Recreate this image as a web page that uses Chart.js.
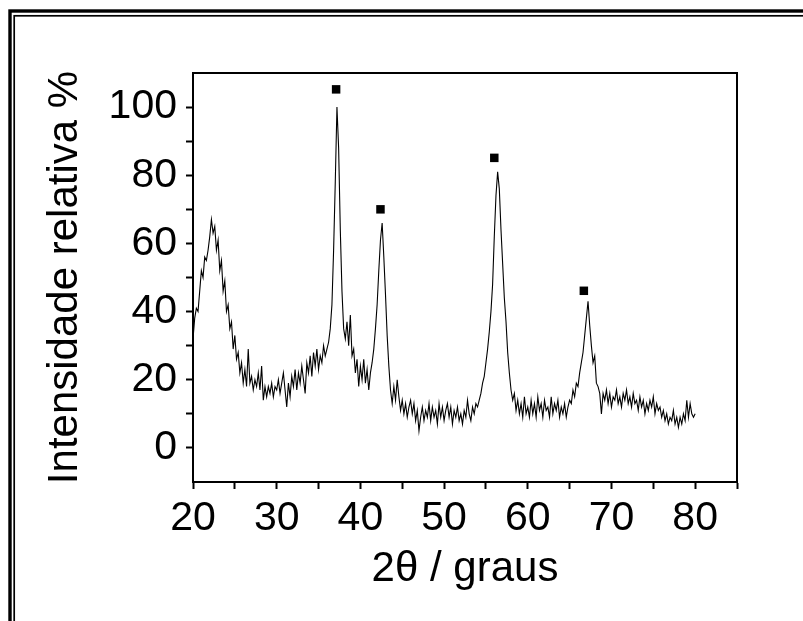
<!DOCTYPE html>
<html lang="pt-br">
<head>
    <meta charset="UTF-8">
    <title>DRX</title>
    <script src="https://cdn.jsdelivr.net/npm/chart.js"></script>
    <style>
        body { margin: 0; background: #fff; }
        #grafico { display: block; }
    </style>
</head>
<body>
    <canvas id="grafico" width="803" height="621"></canvas>

<script>
    // angulos 2theta: comeca em 20 e anda de 0,2 em 0,2 ate 80
    const inicio = 20;
    const passo = 0.2;

    const intensidade = [
        32, 38, 41, 40, 46, 52, 50, 56, 55, 58,
        62, 67, 63, 65, 58, 61, 52, 55, 46, 49,
        40, 42, 35, 37, 29, 33, 26, 28, 22, 25,
        19, 23, 18, 29, 19, 21, 17, 20, 18, 22,
        17, 24, 14, 18, 15, 18, 16, 19, 15, 18,
        17, 20, 16, 19, 22, 17, 12, 19, 15, 21,
        18, 23, 17, 22, 19, 24, 20, 16, 25, 22,
        27, 21, 28, 24, 29, 23, 27, 25, 30, 27,
        29, 31, 35, 42, 58, 78, 100, 88, 64, 46,
        35, 32, 37, 30, 39, 27, 29, 22, 26, 18,
        24, 20, 26, 19, 23, 17, 22, 25, 29, 35,
        42, 52, 61, 66, 56, 45, 33, 24, 17, 13,
        18, 14, 20, 15, 11, 14, 10, 13, 9, 12,
        14, 10, 13, 8, 11, 5, 9, 12, 8, 11,
        9, 13, 8, 12, 9, 11, 7, 13, 9, 12,
        8, 11, 13, 9, 12, 7, 11, 9, 12, 8,
        10, 7, 11, 9, 14, 10, 8, 12, 10, 13,
        12, 14, 16, 19, 21, 25, 29, 34, 40, 48,
        62, 74, 81, 76, 64, 54, 44, 37, 28, 22,
        17, 14, 16, 11, 14, 10, 13, 9, 15, 10,
        12, 9, 14, 10, 13, 9, 15, 11, 13, 9,
        14, 11, 12, 9, 15, 10, 13, 11, 14, 9,
        12, 10, 13, 9, 12, 14, 13, 17, 15, 19,
        18, 22, 25, 28, 33, 38, 43, 36, 30, 25,
        27, 19, 18, 16, 10, 16, 14, 17, 13, 16,
        12, 15, 14, 17, 13, 15, 12, 16, 14, 17,
        13, 15, 12, 16, 13, 14, 11, 15, 12, 14,
        10, 13, 11, 14, 12, 15, 10, 13, 11, 12,
        9, 11, 8, 10, 7, 9, 8, 11, 7, 9,
        6, 9, 7, 10, 8, 14, 9, 13, 10, 9,
        10
    ];

    // marcadores (quadrados) em cima dos picos
    const picosX = [37.1, 42.4, 56.0, 66.7];
    const picosY = [105.2, 70, 85.1, 46.1];

    // rotulos dos eixos
    const rotulosX = [20, 30, 40, 50, 60, 70, 80];
    const rotulosY = [0, 20, 40, 60, 80, 100];

    const pontos = intensidade.map((v, i) => ({ x: +(inicio + i * passo).toFixed(1), y: v }));
    const marcas = picosX.map((x, i) => ({ x: x, y: picosY[i] }));

    const fonte = "'Liberation Sans', Arial, sans-serif";

    // moldura dupla em volta da figura + caixa do grafico
    const moldura = {
        id: 'moldura',
        beforeDraw(chart) {
            const ctx = chart.ctx;
            ctx.save();
            ctx.fillStyle = '#fff';
            ctx.fillRect(0, 0, chart.width, chart.height);
            ctx.strokeStyle = '#000';
            ctx.lineWidth = 3.4;
            ctx.strokeRect(10, 11, 900, 700);
            ctx.lineWidth = 1.7;
            ctx.strokeRect(14.2, 15.8, 900, 700);
            ctx.restore();
        },
        afterDraw(chart) {
            const a = chart.chartArea;
            const ctx = chart.ctx;
            ctx.save();
            ctx.strokeStyle = '#000';
            ctx.lineWidth = 2;
            ctx.strokeRect(a.left, a.top, a.right - a.left, a.bottom - a.top);
            ctx.restore();
        }
    };

    new Chart(document.getElementById('grafico'), {
        type: 'scatter',
        data: {
            datasets: [{
                data: pontos,
                showLine: true,
                borderColor: '#000',
                borderWidth: 1.1,
                pointRadius: 0,
                tension: 0
            }, {
                data: marcas,
                showLine: false,
                pointStyle: 'rect',
                pointRadius: 6,
                backgroundColor: '#000',
                borderColor: '#000',
                borderWidth: 0
            }]
        },
        options: {
            responsive: false,
            animation: false,
            devicePixelRatio: 1,
            layout: { padding: { left: 0, top: 73, right: 66, bottom: 0 } },
            plugins: { legend: { display: false }, tooltip: { enabled: false } },
            scales: {
                x: {
                    type: 'linear',
                    min: 20,
                    max: 85,
                    afterFit: s => { s.height = 139; },
                    afterBuildTicks: s => {
                        s.ticks = [];
                        for (let v = 20; v <= 85; v += 5) s.ticks.push({ value: v });
                    },
                    ticks: {
                        color: '#000',
                        font: { family: fonte, size: 41 },
                        padding: 5,
                        maxRotation: 0,
                        autoSkip: false,
                        callback: v => rotulosX.includes(v) ? String(v) : ''
                    },
                    grid: { drawOnChartArea: false, tickLength: 7, tickColor: '#000', tickWidth: 2 },
                    border: { color: '#000', width: 2 },
                    title: {
                        display: true,
                        text: '2θ / graus',
                        color: '#000',
                        font: { family: fonte, size: 42 },
                        padding: { top: 0, bottom: 26 }
                    }
                },
                y: {
                    min: -10,
                    max: 110,
                    afterFit: s => { s.width = 193; },
                    afterBuildTicks: s => {
                        s.ticks = [];
                        for (let v = 0; v <= 100; v += 10) s.ticks.push({ value: v });
                    },
                    ticks: {
                        color: '#000',
                        font: { family: fonte, size: 41 },
                        padding: 9,
                        autoSkip: false,
                        callback: v => rotulosY.includes(v) ? String(v) : ''
                    },
                    grid: { drawOnChartArea: false, tickLength: 7, tickColor: '#000', tickWidth: 2 },
                    border: { color: '#000', width: 2 },
                    title: {
                        display: true,
                        text: 'Intensidade relativa %',
                        color: '#000',
                        font: { family: fonte, size: 42 },
                        padding: { top: 40, bottom: 0 }
                    }
                }
            }
        },
        plugins: [moldura]
    });
</script>
</body>
</html>
